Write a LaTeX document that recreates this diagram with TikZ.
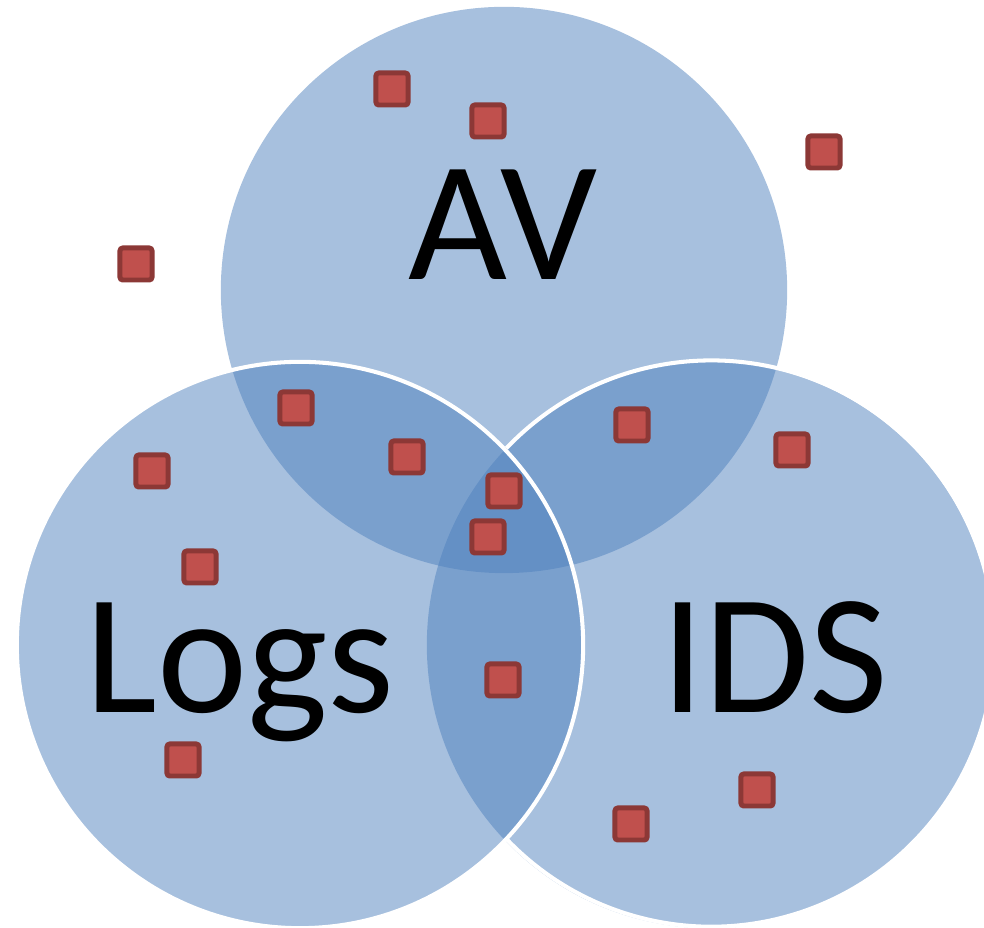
\documentclass[tikz,border=0pt]{standalone}
\usepackage{fontspec}
\setmainfont{Carlito}
\usepackage{tikz}
\usetikzlibrary{positioning}

\definecolor{setblue}{HTML}{4F81BD}
\definecolor{hitred}{HTML}{C0504D}
\definecolor{hitrim}{HTML}{8C3836}

\begin{document}
\begin{tikzpicture}[x=0.01cm,y=-0.01cm,
	set/.style={circle,inner sep=0pt,outer sep=0pt,minimum size=5.66cm,fill=setblue,fill opacity=0.5},
	rim/.style={draw=white,line width=1.15pt},
	setname/.style={anchor=base,inner sep=0pt,font=\fontsize{48.6}{58}\selectfont},
	hit/.style={rectangle,inner sep=0pt,minimum size=0.32cm,fill=hitred,draw=hitrim,line width=1.42pt,rounded corners=0.8pt}]
	\useasboundingbox (0,0) rectangle (984,928);
	\clip (0,0) rectangle (984,928);
	% the three sets
	\node[set] (av) at (504,290) {};
	\node[set] (ids) at (710,645) {};
	\draw[rim] (ids.136.4) arc[start angle=136.4,end angle=-136.4,radius=2.83cm];
	\node[set,rim] (logs) at (300,645) {};
	% names
	\node[setname] (avname) at (503,280) {AV};
	\node[setname] (logsname) at (240,713) {Logs};
	\node[setname] (idsname) at (775,713) {IDS};
	% events
	\node[hit] (e1) at (392,89) {};
	\node[hit] (e2) at (488,121) {};
	\node[hit] (e3) at (824,152) {};
	\node[hit] (e4) at (136,264) {};
	\node[hit] (e5) at (296,408) {};
	\node[hit] (e6) at (407,457) {};
	\node[hit] (e7) at (632,425) {};
	\node[hit] (e8) at (792,450) {};
	\node[hit] (e9) at (152,471) {};
	\node[hit] (e10) at (504,491) {};
	\node[hit] (e11) at (488,537) {};
	\node[hit] (e12) at (200,567) {};
	\node[hit] (e13) at (503,680) {};
	\node[hit] (e14) at (183,760) {};
	\node[hit] (e15) at (757,790) {};
	\node[hit] (e16) at (631,824) {};
\end{tikzpicture}
\end{document}
